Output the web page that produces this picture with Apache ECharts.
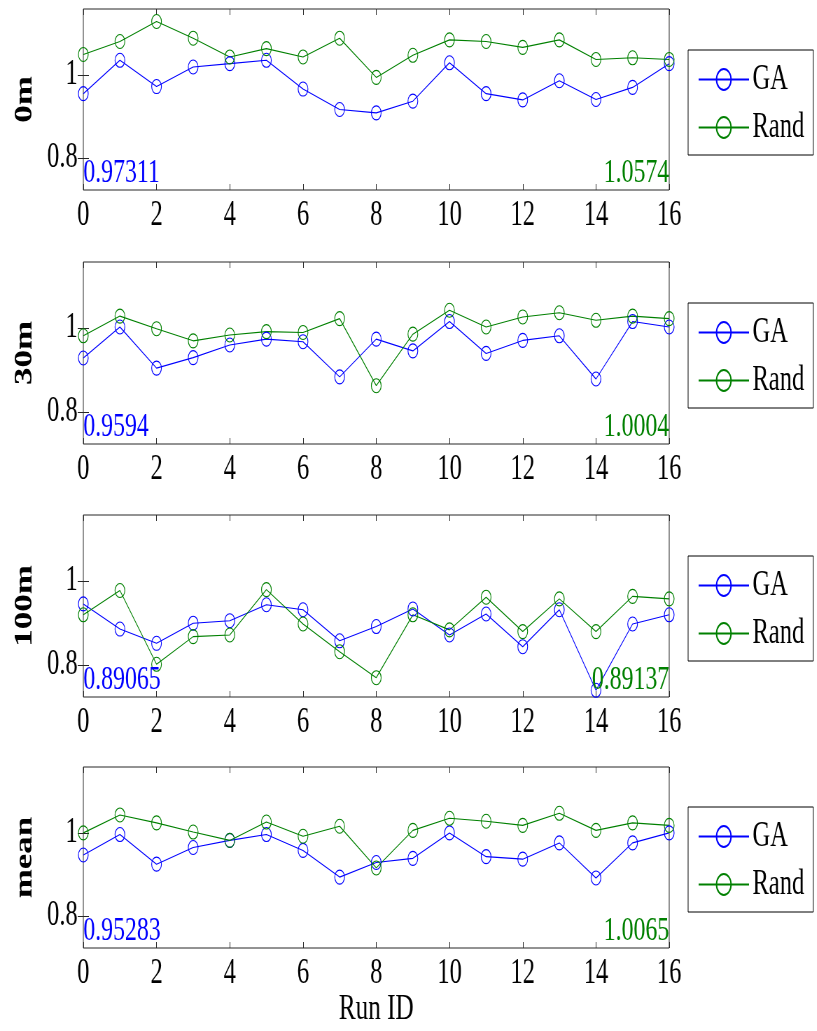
<!DOCTYPE html>
<html><head><meta charset="utf-8">
<script src="https://cdn.jsdelivr.net/npm/echarts@6/dist/echarts.min.js"></script>
<style>
html,body{margin:0;padding:0;overflow:hidden;background:#fff;width:817px;height:1031px;}
#chart{width:1167px;height:1031px;transform:scaleX(0.7);transform-origin:0 0;}
</style></head><body><div id="chart"></div>
<script>
// ---- data ----
const runIds = [0,1,2,3,4,5,6,7,8,9,10,11,12,13,14,15,16];
const panelNames = ['0m','30m','100m','mean'];
const ga0m    = [0.955,1.035,0.972,1.019,1.027,1.035,0.966,0.917,0.909,0.937,1.029,0.955,0.940,0.986,0.941,0.970,1.027];
const rand0m  = [1.049,1.080,1.128,1.088,1.043,1.063,1.043,1.088,0.994,1.047,1.084,1.080,1.066,1.084,1.037,1.041,1.037];
const ga30m   = [0.929,1.003,0.905,0.930,0.960,0.974,0.968,0.884,0.974,0.946,1.016,0.940,0.971,0.982,0.879,1.016,1.003];
const rand30m = [0.982,1.029,0.999,0.970,0.984,0.992,0.990,1.023,0.863,0.986,1.043,1.003,1.027,1.037,1.019,1.029,1.023];
const ga100m  = [0.946,0.886,0.852,0.900,0.906,0.944,0.932,0.858,0.892,0.934,0.872,0.922,0.844,0.932,0.740,0.898,0.920];
const rand100m= [0.920,0.978,0.802,0.868,0.872,0.980,0.898,0.832,0.770,0.920,0.884,0.962,0.880,0.958,0.880,0.964,0.958];
const gaMean  = [0.947,0.996,0.925,0.965,0.982,0.996,0.958,0.894,0.929,0.939,1.000,0.943,0.937,0.976,0.892,0.976,1.000];
const randMean= [1.000,1.043,1.024,1.002,0.982,1.026,0.992,1.016,0.916,1.006,1.035,1.028,1.018,1.047,1.006,1.024,1.018];
const gaSeries   = [ga0m, ga30m, ga100m, gaMean];
const randSeries = [rand0m, rand30m, rand100m, randMean];
const gaMeanLabels   = ['0.97311','0.9594','0.89065','0.95283'];
const randMeanLabels = ['1.0574','1.0004','0.89137','1.0065'];
const yTickValues = [0.8, 1];
const yTickLabels = ['0.8', '1'];
const seriesNames = ['GA', 'Rand'];

// ---- style / layout ----
const FONT = 'Liberation Serif';
const BLUE = '#0000ff', GREEN = '#008000', AXIS = '#262626';
const YMIN = 0.724, YMAX = 1.158;
const gridLeft = 119, gridWidth = 837;
const gridTops = [9, 262, 515, 767];
const gridHeights = [181, 182, 182, 181];
const legendTops = [50, 303, 556, 807];

const grids = [], xAxes = [], yAxes = [], series = [], legends = [];
for (let p = 0; p < 4; p++) {
  grids.push({left: gridLeft, top: gridTops[p], width: gridWidth, height: gridHeights[p],
    show: true, borderColor: AXIS, borderWidth: 1, containLabel: false});
  const isLast = p === 3;
  xAxes.push({type: 'value', gridIndex: p, min: 0, max: 16, interval: 2, position: 'bottom',
    axisLine: {show: false}, splitLine: {show: false},
    axisTick: {show: true, inside: true, length: 6, lineStyle: {color: AXIS}},
    axisLabel: {show: true, margin: 8, color: '#000', fontFamily: FONT, fontSize: 35},
    name: isLast ? 'Run ID' : '', nameLocation: 'middle', nameGap: 44,
    nameTextStyle: {color: '#000', fontFamily: FONT, fontSize: 36}});
  xAxes.push({type: 'value', gridIndex: p, min: 0, max: 16, interval: 2, position: 'top',
    axisLine: {show: false}, splitLine: {show: false},
    axisTick: {show: true, inside: true, length: 6, lineStyle: {color: AXIS}},
    axisLabel: {show: false}});
  yAxes.push({type: 'value', gridIndex: p, min: YMIN, max: YMAX, position: 'left',
    axisLine: {show: false}, splitLine: {show: false},
    axisTick: {show: true, inside: true, length: 8, customValues: yTickValues, lineStyle: {color: AXIS}},
    axisLabel: {show: true, margin: 8, customValues: yTickValues, color: '#000', fontFamily: FONT, fontSize: 35,
      formatter: v => { const i = yTickValues.findIndex(t => Math.abs(t - v) < 1e-9); return i >= 0 ? yTickLabels[i] : ''; }},
    name: panelNames[p], nameLocation: 'middle', nameGap: 66, nameRotate: 90,
    nameTextStyle: {color: '#000', fontFamily: FONT, fontSize: 35, fontWeight: 'bold'}});
  yAxes.push({type: 'value', gridIndex: p, min: YMIN, max: YMAX, position: 'right',
    axisLine: {show: false}, splitLine: {show: false},
    axisTick: {show: true, inside: true, length: 8, customValues: yTickValues, lineStyle: {color: AXIS}},
    axisLabel: {show: false}});

  const mk = (name, vals, color, label, atEnd) => ({
    type: 'line', name: name, xAxisIndex: 2 * p, yAxisIndex: 2 * p,
    data: runIds.map((x, i) => [x, vals[i]]),
    symbol: 'circle', symbolSize: 14, showSymbol: true,
    lineStyle: {color: color, width: 1.1},
    itemStyle: {color: 'rgba(255,255,255,0)', borderColor: color, borderWidth: 1.1},
    emphasis: {disabled: true}, silent: true,
    markPoint: {
      symbol: 'circle', symbolSize: 0, silent: true, animation: false,
      label: {show: true, position: 'inside', align: atEnd ? 'right' : 'left', verticalAlign: 'bottom',
        color: color, fontFamily: FONT, fontSize: 34, formatter: () => label},
      data: [{coord: [atEnd ? runIds[runIds.length - 1] : runIds[0], YMIN]}]
    }
  });
  series.push(mk(seriesNames[0], gaSeries[p], BLUE, gaMeanLabels[p], false));
  series.push(mk(seriesNames[1], randSeries[p], GREEN, randMeanLabels[p], true));

  legends.push({data: seriesNames, orient: 'vertical', left: 983, top: legendTops[p],
    width: 180, itemWidth: 72, itemHeight: 26, itemGap: 13,
    padding: [12, 13, 10, 14], borderColor: '#000', borderWidth: 1, backgroundColor: '#fff',
    selectedMode: false,
    textStyle: {color: '#000', fontFamily: FONT, fontSize: 35}});
}

const chart = echarts.init(document.getElementById('chart'));
chart.setOption({
  animation: false,
  backgroundColor: '#fff',
  grid: grids, xAxis: xAxes, yAxis: yAxes, series: series, legend: legends
});
</script></body></html>
